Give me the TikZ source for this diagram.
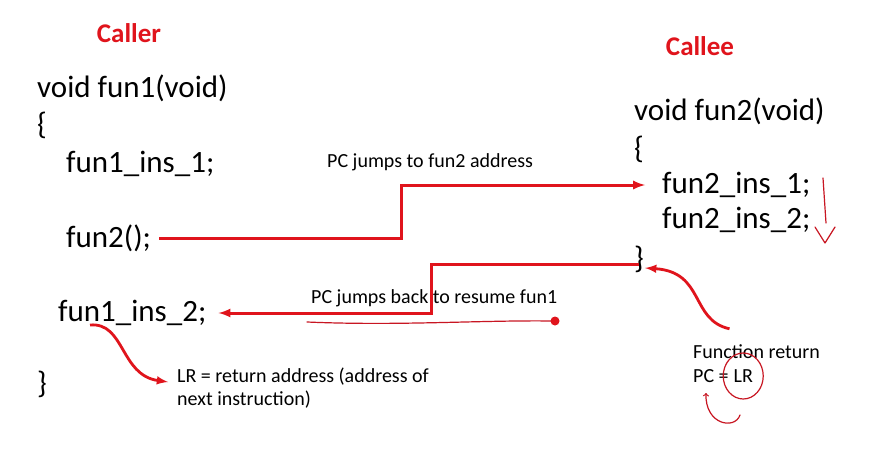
\documentclass[tikz,border=0pt]{standalone}
\usepackage{fontspec}
\setmainfont{Carlito}
\usetikzlibrary{arrows}
\definecolor{penred}{RGB}{224,20,28}
\definecolor{inkred}{RGB}{200,22,34}
\tikzstyle{code}=[anchor=west,inner sep=0pt,font=\fontsize{31}{31}\selectfont]
\tikzstyle{note}=[anchor=west,inner sep=0pt,align=left,font=\fontsize{20}{22.5}\selectfont]
\tikzstyle{title}=[inner sep=0pt,text=penred,font=\bfseries\fontsize{27}{27}\selectfont]
\tikzstyle{jump}=[-latex,penred,line width=3pt]
\tikzstyle{curve}=[-latex,penred,line width=2.8pt]
\tikzstyle{scribble}=[inkred,line width=1.2pt,line cap=round,line join=round]

\begin{document}
\begin{tikzpicture}[x=1pt,y=-1pt]
\useasboundingbox[fill=white] (0,0) rectangle (873,458);
% caller side
\node (caller) [title] at (129,33) {Caller};
\node (head1) [code] at (37,88)  {void fun1(void)};
\node (lb1)   [code] at (37,125) {\{};
\node (ins11) [code] at (66,164) {fun1\_ins\_1;};
\node (call)  [code] at (66,238) {fun2();};
\node (ret)   [code] at (58,313) {fun1\_ins\_2;};
\node (rb1)   [code] at (37,384) {\}};
% callee side
\node (callee) [title] at (700,46) {Callee};
\node (head2) [code] at (634,111) {void fun2(void)};
\node (lb2)   [code] at (634,149) {\{};
\node (ins21) [code] at (662,185) {fun2\_ins\_1;};
\node (ins22) [code] at (662,220) {fun2\_ins\_2;};
\node (rb2)   [code] at (634,259) {\}};
% notes
\node (go)    [note] at (327,162) {PC jumps to fun2 address};
\node (back)  [note] at (311,298) {PC jumps back to resume fun1};
\node (lrnote) [note] at (177,388) {LR = return address (address of\\next instruction)};
\node (fr)    [note] at (693,352) {Function return};
\node (pc)    [note] at (693,376) {PC =\ };
\node (lr)    [note,anchor=base west] at (pc.base east) {LR};
\coordinate (k1) at (401,210);
\coordinate (k2) at (431,290);

\draw [jump,shorten <=8pt,shorten >=17pt] (call.east) -| (k1) |- (ins21.west);
\draw [jump,shorten >=12pt] ([yshift=-5pt]rb2.center) -| (k2) |- (ret.east);
\draw [curve] ([xshift=32pt,yshift=-12pt]ret.west) .. controls (125,322) and (120,375) .. ([xshift=-9pt,yshift=6pt]lrnote.west);
\draw [curve] ([xshift=-27pt,yshift=16pt]fr.north) .. controls (690,320) and (705,272) .. ([xshift=1pt,yshift=-9pt]rb2.east);
% pen marks
\draw [scribble] (307,322) .. controls (400,326) and (480,320) .. (553,321);
\fill [penred] (555,321) circle (4.5);
\draw [scribble] (823,178) -- (826,223);
\draw [scribble] (815,227) -- (825,243) -- (835,227);
\draw [scribble] (lr.center) ellipse (20 and 23);
\draw [scribble,->] (740,415) .. controls (735,430) and (705,425) .. (706,393);
\end{tikzpicture}
\end{document}
